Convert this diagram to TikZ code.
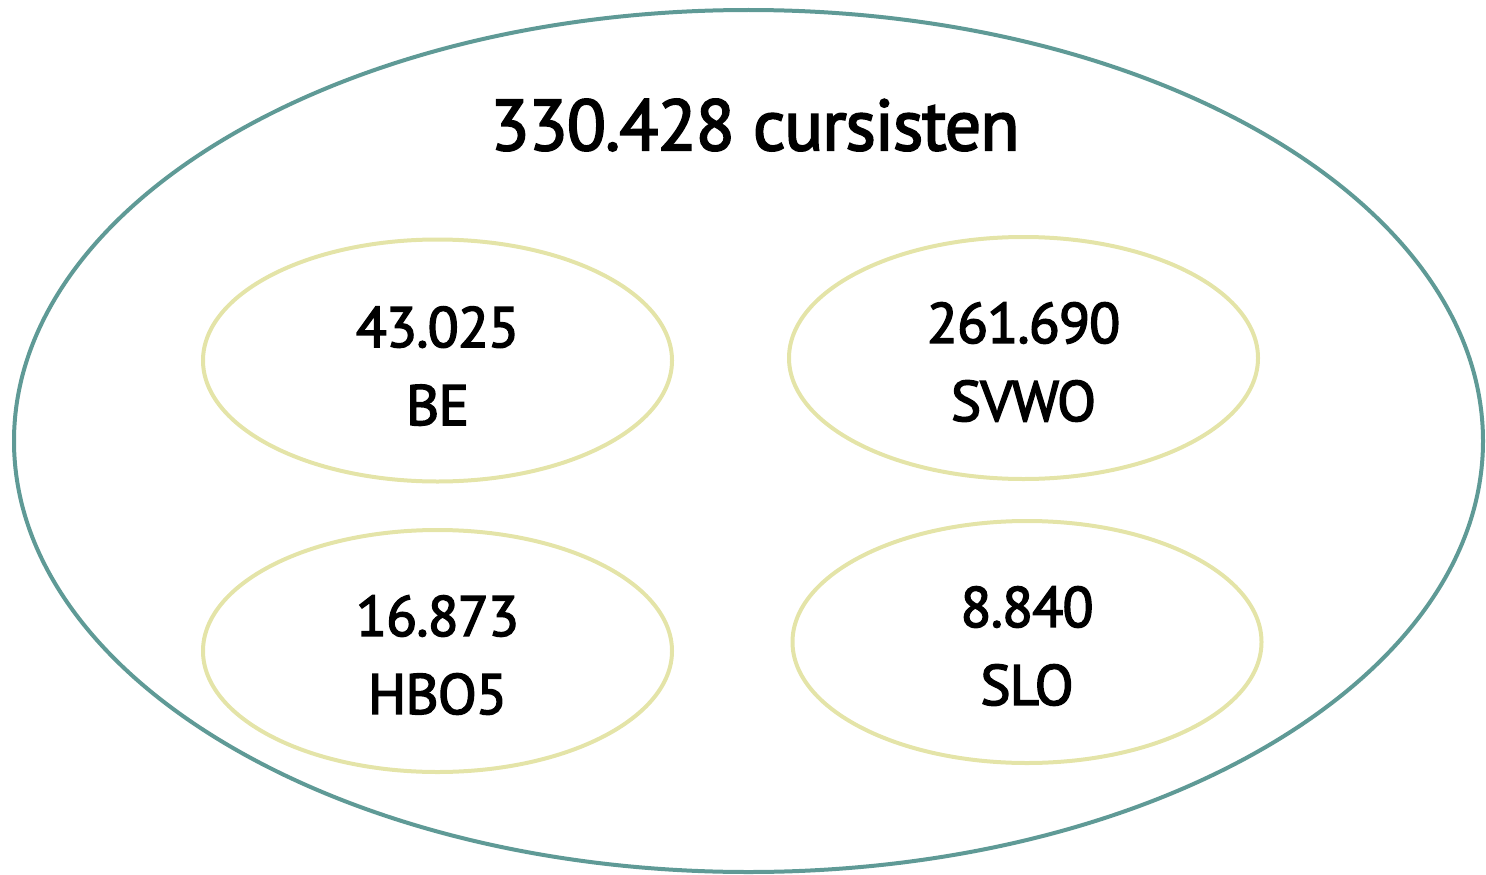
\documentclass[tikz,border=0pt]{standalone}
\usepackage{fontspec}
\setmainfont[FakeBold=2.6,LetterSpace=-1.5]{PT Sans}
\usetikzlibrary{shapes.geometric}
\definecolor{outerc}{HTML}{5F9A96}
\definecolor{innerc}{HTML}{E4E4A8}
\begin{document}
\begin{tikzpicture}[x=1pt,y=-1pt,
  outerell/.style={draw=outerc,line width=4pt,ellipse,inner sep=0pt,minimum width=1469pt,minimum height=862pt},
  innerell/.style={draw=innerc,line width=4pt,ellipse,inner sep=0pt,minimum width=469pt,minimum height=242pt},
  lbl/.style={align=center,font=\fontsize{57}{78}\selectfont,inner sep=0pt},
  ttl/.style={font=\fontsize{72}{80}\selectfont,inner sep=0pt}]
\useasboundingbox (0,0) rectangle (1486,875);
\node[outerell] (outer) at (748.5,441) {};
\node[ttl] (title) at (755,125) {330.428 cursisten};
\node[innerell] (be) at (437.5,360.5) {};
\node[innerell] (svwo) at (1023.5,358) {};
\node[innerell] (hbo) at (437.5,651) {};
\node[innerell] (slo) at (1027,642) {};
\node[lbl] (tbe) at (437.5,366) {43.025\\BE};
\node[lbl] (tsvwo) at (1023.5,362) {261.690\\SVWO};
\node[lbl] (thbo) at (437.5,655) {16.873\\HBO5};
\node[lbl] (tslo) at (1027,646) {8.840\\SLO};
\end{tikzpicture}
\end{document}
